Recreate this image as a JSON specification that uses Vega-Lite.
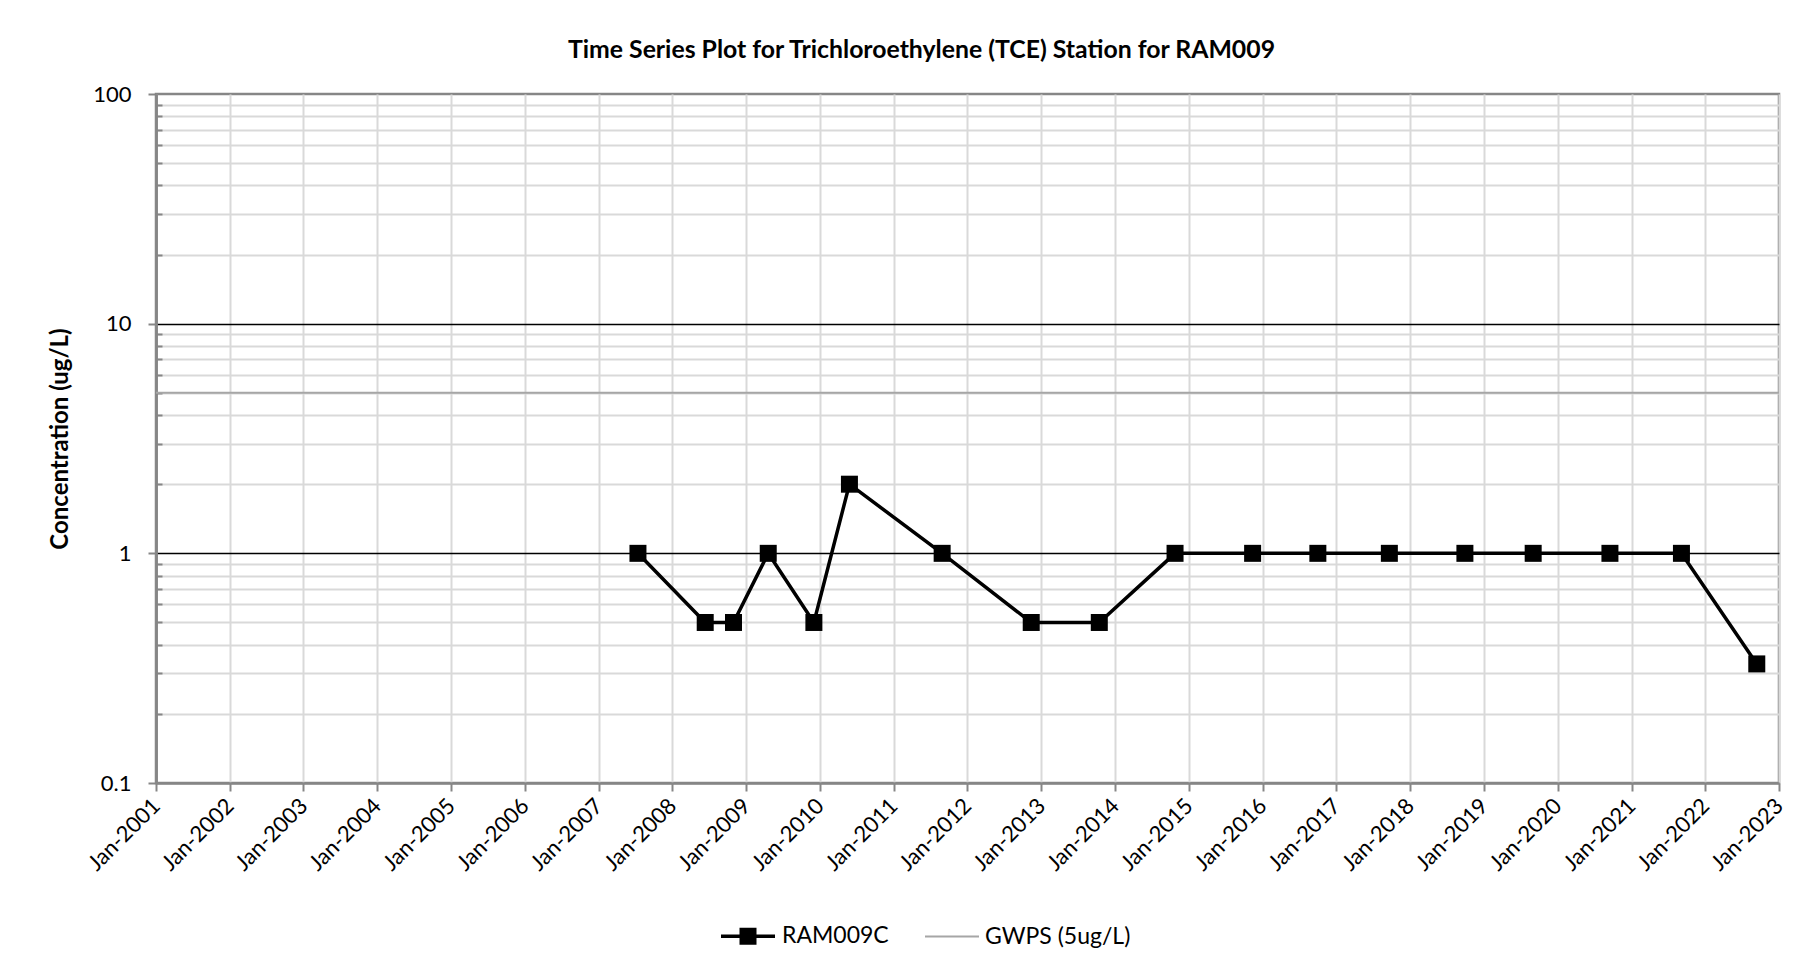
{
  "$schema": "https://vega.github.io/schema/vega-lite/v6.json",
  "width": 1623,
  "height": 689,
  "autosize": {"type": "none"},
  "padding": {"left": 156, "top": 94, "right": 39, "bottom": 189},
  "background": "white",
  "config": {
    "font": "Lato",
    "view": {"stroke": "#868686", "strokeWidth": 2.5}
  },
  "title": {
    "text": "Time Series Plot for Trichloroethylene (TCE) Station for RAM009",
    "font": "Lato",
    "fontSize": 24.8,
    "fontWeight": "bold",
    "color": "black",
    "anchor": "middle",
    "frame": "group",
    "dx": -46,
    "baseline": "alphabetic",
    "offset": 0.5
  },
  "data": {
    "values": [
      {"series": "GWPS (5ug/L)", "date": "2001-01-01", "value": 5},
      {"series": "GWPS (5ug/L)", "date": "2023-01-01", "value": 5},
      {"series": "RAM009C", "date": "2007-07-15", "value": 1},
      {"series": "RAM009C", "date": "2008-06-12", "value": 0.5},
      {"series": "RAM009C", "date": "2008-10-30", "value": 0.5},
      {"series": "RAM009C", "date": "2009-04-20", "value": 1},
      {"series": "RAM009C", "date": "2009-12-02", "value": 0.5},
      {"series": "RAM009C", "date": "2010-05-27", "value": 2},
      {"series": "RAM009C", "date": "2011-08-29", "value": 1},
      {"series": "RAM009C", "date": "2012-11-12", "value": 0.5},
      {"series": "RAM009C", "date": "2013-10-15", "value": 0.5},
      {"series": "RAM009C", "date": "2014-10-25", "value": 1},
      {"series": "RAM009C", "date": "2015-11-13", "value": 1},
      {"series": "RAM009C", "date": "2016-10-01", "value": 1},
      {"series": "RAM009C", "date": "2017-09-20", "value": 1},
      {"series": "RAM009C", "date": "2018-09-29", "value": 1},
      {"series": "RAM009C", "date": "2019-09-02", "value": 1},
      {"series": "RAM009C", "date": "2020-09-16", "value": 1},
      {"series": "RAM009C", "date": "2021-09-05", "value": 1},
      {"series": "RAM009C", "date": "2022-09-13", "value": 0.33}
    ]
  },
  "resolve": {"axis": {"y": "independent"}},
  "layer": [
    {
      "mark": {"type": "line"},
      "encoding": {
        "x": {
          "field": "date",
          "type": "temporal",
          "scale": {
            "type": "utc",
            "domain": [
              {"year": 2001, "month": 1, "date": 1, "utc": true},
              {"year": 2023, "month": 1, "date": 1, "utc": true}
            ]
          },
          "axis": {
            "values": [
              {"year": 2001, "month": 1, "date": 1, "utc": true},
              {"year": 2002, "month": 1, "date": 1, "utc": true},
              {"year": 2003, "month": 1, "date": 1, "utc": true},
              {"year": 2004, "month": 1, "date": 1, "utc": true},
              {"year": 2005, "month": 1, "date": 1, "utc": true},
              {"year": 2006, "month": 1, "date": 1, "utc": true},
              {"year": 2007, "month": 1, "date": 1, "utc": true},
              {"year": 2008, "month": 1, "date": 1, "utc": true},
              {"year": 2009, "month": 1, "date": 1, "utc": true},
              {"year": 2010, "month": 1, "date": 1, "utc": true},
              {"year": 2011, "month": 1, "date": 1, "utc": true},
              {"year": 2012, "month": 1, "date": 1, "utc": true},
              {"year": 2013, "month": 1, "date": 1, "utc": true},
              {"year": 2014, "month": 1, "date": 1, "utc": true},
              {"year": 2015, "month": 1, "date": 1, "utc": true},
              {"year": 2016, "month": 1, "date": 1, "utc": true},
              {"year": 2017, "month": 1, "date": 1, "utc": true},
              {"year": 2018, "month": 1, "date": 1, "utc": true},
              {"year": 2019, "month": 1, "date": 1, "utc": true},
              {"year": 2020, "month": 1, "date": 1, "utc": true},
              {"year": 2021, "month": 1, "date": 1, "utc": true},
              {"year": 2022, "month": 1, "date": 1, "utc": true},
              {"year": 2023, "month": 1, "date": 1, "utc": true}
            ],
            "labelExpr": "utcFormat(datum.value, '%b-%Y')",
            "labelAngle": -45,
            "labelAlign": "right",
            "labelBaseline": "middle",
            "labelFont": "Lato",
            "labelFontSize": 22,
            "labelColor": "black",
            "labelPadding": 11,
            "labelOverlap": false,
            "labelFlush": false,
            "labelLimit": 300,
            "tickSize": 8,
            "tickColor": "#868686",
            "tickWidth": 2,
            "domainColor": "#868686",
            "domainWidth": 2.5,
            "grid": true,
            "gridColor": "#d9d9d9",
            "gridWidth": 2,
            "title": null
          }
        },
        "y": {
          "field": "value",
          "type": "quantitative",
          "scale": {"type": "log", "domain": [0.1, 100], "nice": false},
          "axis": {
            "orient": "left",
            "values": [0.2, 0.3, 0.4, 0.5, 0.6, 0.7, 0.8, 0.9, 2, 3, 4, 5, 6, 7, 8, 9, 20, 30, 40, 50, 60, 70, 80, 90],
            "labels": false,
            "title": null,
            "tickSize": -6,
            "tickColor": "#868686",
            "tickWidth": 2,
            "grid": true,
            "gridColor": "#d9d9d9",
            "gridWidth": 2,
            "domainColor": "#868686",
            "domainWidth": 2.5
          }
        },
        "color": {
          "field": "series",
          "type": "nominal",
          "scale": {"domain": ["RAM009C", "GWPS (5ug/L)"], "range": ["#000000", "#a6a6a6"]},
          "legend": {
            "orient": "none",
            "legendX": 563,
            "legendY": 813,
            "direction": "horizontal",
            "title": null,
            "labelFont": "Lato",
            "labelFontSize": 23,
            "labelColor": "black",
            "labelOffset": 5,
            "labelLimit": 300,
            "symbolSize": 2916,
            "symbolType": "M-1,0H1",
            "columnPadding": 32,
            "encode": {
              "symbols": {
                "update": {
                  "shape": {"signal": "datum.value === 'RAM009C' ? 'M-1,0H1M-0.25,-0.25H0.25V0.25H-0.25Z' : 'M-1,0H1'"},
                  "fill": {"value": "black"},
                  "strokeWidth": {"signal": "datum.value === 'RAM009C' ? 3.5 : 2"}
                }
              }
            }
          }
        },
        "strokeWidth": {
          "field": "series",
          "type": "nominal",
          "scale": {"domain": ["RAM009C", "GWPS (5ug/L)"], "range": [3.5, 2]},
          "legend": null
        }
      }
    },
    {
      "transform": [{"filter": "datum.series === 'RAM009C'"}],
      "mark": {"type": "point", "shape": "square", "filled": true, "color": "black", "size": 289, "opacity": 1},
      "encoding": {
        "x": {"field": "date", "type": "temporal"},
        "y": {
          "field": "value",
          "type": "quantitative",
          "scale": {"type": "log", "domain": [0.1, 100], "nice": false},
          "axis": {
            "orient": "left",
            "values": [0.1, 1, 10, 100],
            "format": "~g",
            "labelFont": "Lato",
            "labelFontSize": 22,
            "labelColor": "black",
            "labelPadding": 17,
            "tickSize": 8,
            "tickColor": "#868686",
            "tickWidth": 2,
            "grid": true,
            "gridColor": {"condition": {"test": "datum.value == 1 || datum.value == 10", "value": "#000000"}, "value": "transparent"},
            "gridWidth": 1.5,
            "domainColor": "#868686",
            "domainWidth": 2.5,
            "title": "Concentration (ug/L)",
            "titleFont": "Lato",
            "titleFontSize": 24,
            "titleFontWeight": "bold",
            "titleColor": "black",
            "titlePadding": 20
          }
        }
      }
    }
  ]
}
